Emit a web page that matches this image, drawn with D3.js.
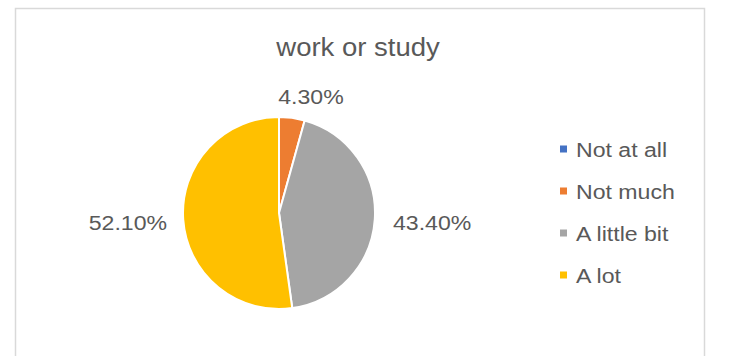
<!DOCTYPE html>
<html>
<head>
<meta charset="utf-8">
<script src="https://cdn.jsdelivr.net/npm/d3@7"></script>
<style>
  html, body { margin: 0; padding: 0; background: #fff; }
  svg { display: block; }
  text { font-family: "Liberation Sans", Arial, sans-serif; fill: #595959; }
</style>
</head>
<body>
<svg id="chart" width="734" height="356"></svg>
<script>
// Answer shares for "work or study"
const categories = ["Not at all", "Not much", "A little bit", "A lot"];
const values = [0, 4.3, 43.4, 52.1];
const colors = ["#4472C4", "#ED7D31", "#A5A5A5", "#FFC000"];
const title = "work or study";

const svg = d3.select("#chart");
const stretch = 1.1; // glyphs are drawn slightly wide

// chart frame
svg.append("rect")
  .attr("x", 15.5).attr("y", 8.5)
  .attr("width", 689).attr("height", 360)
  .attr("fill", "#fff").attr("stroke", "#d9d9d9").attr("stroke-width", 1.5);

function wideText(x, y, str, size, anchor) {
  return svg.append("text")
    .attr("transform", `translate(${x},${y}) scale(${stretch},1)`)
    .attr("text-anchor", anchor)
    .attr("font-size", size)
    .text(str);
}

wideText(358, 56, title, 25, "middle");

// pie
const cx = 279, cy = 213, r = 96;
const pie = d3.pie().sort(null).value(d => d.v);
const arcs = pie(categories.map((c, i) => ({ c, v: values[i], col: colors[i] })));
const arc = d3.arc().innerRadius(0).outerRadius(r);

const g = svg.append("g").attr("transform", `translate(${cx},${cy})`);
g.selectAll("path").data(arcs).join("path")
  .attr("d", arc)
  .attr("fill", d => d.data.col)
  .attr("stroke", "#fff")
  .attr("stroke-width", 2)
  .attr("stroke-linejoin", "round");

// value labels placed outside each slice
const fmt = d3.format(".2f");
const labelPos = {
  "Not much": { x: 311, y: 104, a: "middle" },
  "A little bit": { x: 393, y: 230, a: "start" },
  "A lot": { x: 167, y: 230, a: "end" }
};
arcs.filter(d => d.data.v > 0).forEach(d => {
  const p = labelPos[d.data.c];
  wideText(p.x, p.y, fmt(d.data.v) + "%", 21, p.a);
});

// legend
const legendY = d3.scalePoint().domain(categories).range([149, 275]);
const lg = svg.append("g");
categories.forEach((c, i) => {
  const y = legendY(c);
  lg.append("rect")
    .attr("x", 560).attr("y", y - 3.5)
    .attr("width", 7).attr("height", 7)
    .attr("fill", colors[i]);
  wideText(576, y + 7.5, c, 21, "start");
});
</script>
</body>
</html>
